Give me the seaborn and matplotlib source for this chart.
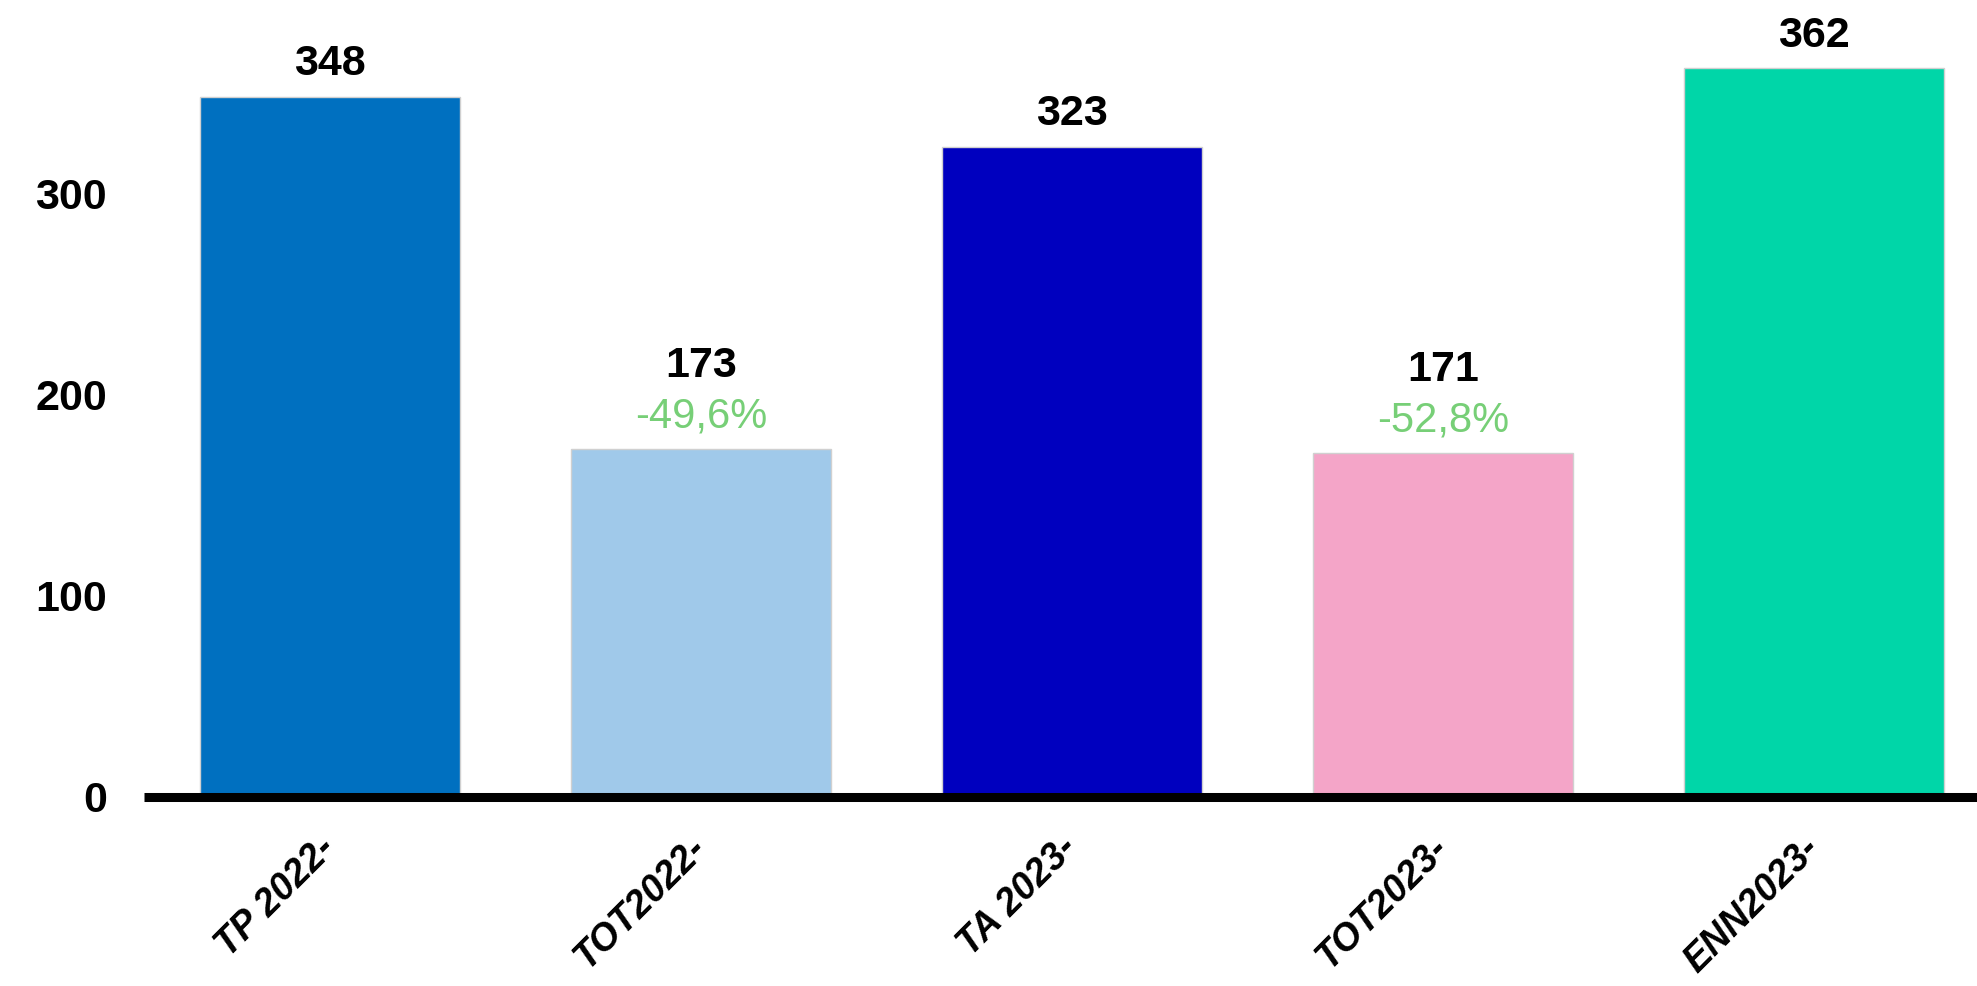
import pandas as pd
import numpy as np
import matplotlib
matplotlib.use('Agg')
import matplotlib.pyplot as plt
import seaborn as sns

# Dados do gráfico
categorias = ['TP 2022-', 'TOT2022-', 'TA 2023-', 'TOT2023-', 'ENN2023-']
valores = [348, 173, 323, 171, 362]
variacao = ['', '-49,6%', '', '-52,8%', '']
cores = ['#0070C0', '#A0C9EA', '#0000BF', '#F4A5C8', '#00D6A8']

sns.set_style('white')
plt.rcParams['font.family'] = ['Liberation Sans', 'DejaVu Sans']

df = pd.DataFrame({'cat': categorias, 'val': valores})

fig = plt.figure(figsize=(19.77, 9.86), dpi=100)
ax = fig.add_axes([0.073, 0.192, 0.927, 0.808])

sns.barplot(data=df, x='cat', y='val', hue='cat', palette=cores, width=0.7,
            legend=False, saturation=1, edgecolor='#D0D0D0', linewidth=1, ax=ax)

ax.set_ylim(0, 396)
ax.set_xlim(-0.5, 4.44)
ax.set_yticks([0, 100, 200, 300])
ax.set_xlabel('')
ax.set_ylabel('')

for s in ['left', 'right', 'top']:
    ax.spines[s].set_visible(False)
ax.spines['bottom'].set_linewidth(6.5)
ax.spines['bottom'].set_color('black')
ax.spines['bottom'].set_capstyle('butt')

ax.tick_params(axis='y', length=0, pad=27, labelsize=31, labelcolor='black')
ax.tick_params(axis='x', length=0, pad=33, labelsize=27, labelcolor='black')
for lbl in ax.get_yticklabels():
    lbl.set_fontweight('bold')
for lbl in ax.get_xticklabels():
    lbl.set_fontweight('bold')
    lbl.set_fontstyle('italic')
    lbl.set_rotation(45)
    lbl.set_rotation_mode('anchor')
    lbl.set_ha('right')
    lbl.set_va('center')

# Rótulos dos valores
for i, (v, p) in enumerate(zip(valores, variacao)):
    if p:
        ax.annotate(p, (i, v), xytext=(0, 9), textcoords='offset points',
                    ha='center', va='bottom', fontsize=30, color='#77CF77')
        ax.annotate(str(v), (i, v), xytext=(0, 45), textcoords='offset points',
                    ha='center', va='bottom', fontsize=31, fontweight='bold', color='black')
    else:
        ax.annotate(str(v), (i, v), xytext=(0, 9), textcoords='offset points',
                    ha='center', va='bottom', fontsize=31, fontweight='bold', color='black')

plt.savefig('out.png', dpi=100)
